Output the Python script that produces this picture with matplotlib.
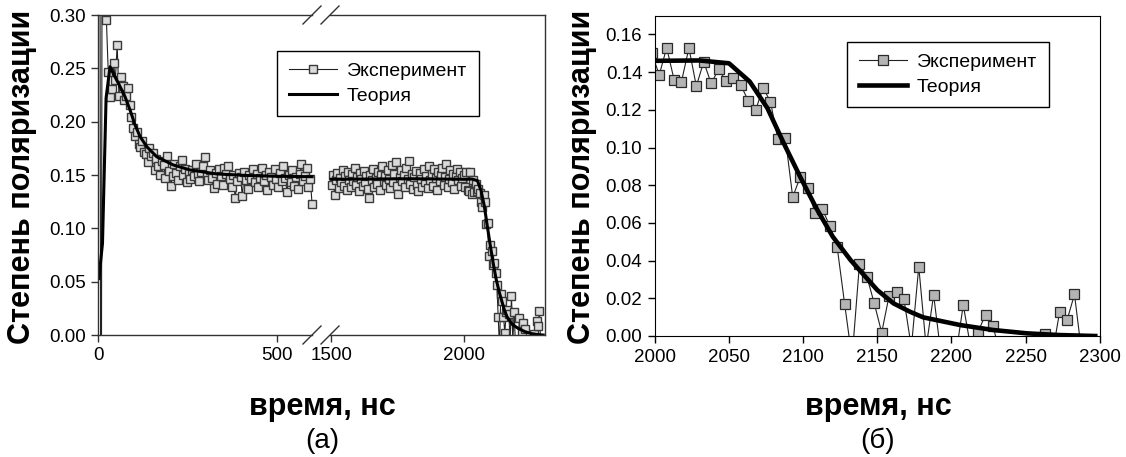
import matplotlib
matplotlib.use("Agg")
import matplotlib.pyplot as plt   # noqa: E402
import numpy as np                # noqa: E402
from matplotlib.lines import Line2D  # noqa: E402

plt.rcParams["font.family"] = ["Liberation Sans", "DejaVu Sans"]

# experiment, first stretch: samples every 5 ns from 3 ns
exp1_start, exp1_step = 3, 5
exp1 = [
    0.80, -0.30, 0.90, 0.31, 0.295, 0.247, 0.223, 0.231, 0.255, 0.239,
    0.272, 0.224, 0.242, 0.233, 0.220, 0.224, 0.232, 0.216, 0.204, 0.194,
    0.187, 0.190, 0.179, 0.176, 0.182, 0.172, 0.170, 0.162, 0.175, 0.168,
    0.171, 0.155, 0.165, 0.158, 0.150, 0.163, 0.159, 0.147, 0.168, 0.154,
    0.140, 0.149, 0.160, 0.152, 0.145, 0.158, 0.164, 0.150, 0.156, 0.143,
    0.152, 0.146, 0.155, 0.149, 0.160, 0.151, 0.144, 0.153, 0.158, 0.167,
    0.150, 0.145, 0.155, 0.147, 0.138, 0.152, 0.142, 0.156, 0.149, 0.141,
    0.157, 0.151, 0.158, 0.146, 0.139, 0.150, 0.128, 0.144, 0.152, 0.148,
    0.130, 0.153, 0.145, 0.137, 0.150, 0.146, 0.156, 0.143, 0.151, 0.139,
    0.147, 0.157, 0.144, 0.150, 0.136, 0.153, 0.148, 0.141, 0.156, 0.146,
    0.139, 0.152, 0.144, 0.158, 0.147, 0.134, 0.150, 0.143, 0.155, 0.140,
    0.148, 0.137, 0.151, 0.160, 0.144, 0.149, 0.157, 0.139, 0.146, 0.123,
]

# experiment, second stretch: samples every 5 ns from 1503 ns
exp2_start, exp2_step = 1503, 5
exp2 = [
    0.141, 0.150, 0.131, 0.145, 0.152, 0.138, 0.147, 0.143, 0.155, 0.140,
    0.149, 0.136, 0.153, 0.145, 0.139, 0.151, 0.144, 0.157, 0.141, 0.148,
    0.135, 0.152, 0.146, 0.140, 0.154, 0.143, 0.149, 0.137, 0.128, 0.150,
    0.145, 0.156, 0.139, 0.147, 0.142, 0.153, 0.136, 0.150, 0.158, 0.144,
    0.149, 0.141, 0.155, 0.146, 0.138, 0.159, 0.143, 0.151, 0.162, 0.140,
    0.132, 0.148, 0.155, 0.144, 0.150, 0.139, 0.157, 0.146, 0.163, 0.142,
    0.151, 0.137, 0.148, 0.154, 0.141, 0.135, 0.152, 0.146, 0.139, 0.156,
    0.143, 0.149, 0.138, 0.158, 0.145, 0.151, 0.140, 0.156, 0.147, 0.136,
    0.153, 0.144, 0.150, 0.157, 0.141, 0.148, 0.160, 0.139, 0.146, 0.155,
    0.143, 0.151, 0.137, 0.149, 0.156, 0.145, 0.153, 0.140, 0.147, 0.150,
    # 2003 ns onward (the stretch shown in panel b)
    0.1385, 0.153, 0.136, 0.135, 0.1528, 0.1326, 0.1455, 0.134, 0.1415, 0.1353,
    0.1367, 0.1332, 0.1248, 0.1199, 0.1317, 0.1243, 0.1043, 0.1052, 0.0737, 0.0843,
    0.0785, 0.0654, 0.0672, 0.0584, 0.047, 0.0171, -0.012, 0.0382, 0.0315, 0.0173,
    0.0018, 0.0214, 0.0235, 0.0195, -0.006, 0.0368, -0.006, 0.0219, -0.010, -0.020,
    -0.010, 0.0164, -0.006, 0.0023, 0.0113, 0.0055, -0.010, -0.020, -0.015, -0.020,
    -0.010, -0.015, 0.001, -0.010, 0.0129, 0.0085, 0.0221, -0.010,
]

# theory curve
th1_t = [2, 12, 22, 33, 47, 61, 75, 89, 103, 117, 136, 164, 210, 257, 331, 420, 500, 598]
th1_v = [0.053, 0.086, 0.222, 0.2515, 0.242, 0.233, 0.2234, 0.211, 0.197, 0.186,
         0.1765, 0.167, 0.1594, 0.1547, 0.151, 0.1495, 0.1488, 0.1484]
th2_t = [1500, 1800, 2000, 2030, 2050, 2064, 2076, 2087, 2098, 2109, 2120, 2132,
         2150, 2161, 2172, 2181, 2195, 2206, 2228, 2251, 2273, 2297]
th2_v = [0.146, 0.1465, 0.146, 0.1462, 0.1447, 0.135, 0.1208, 0.1022, 0.0845, 0.0677,
         0.0527, 0.0403, 0.0244, 0.0173, 0.0129, 0.0099, 0.0076, 0.0058, 0.0032,
         0.0014, 0.0005, 0.0]

t1 = exp1_start + exp1_step * np.arange(len(exp1))
t2 = exp2_start + exp2_step * np.arange(len(exp2))

W, H = 1126, 457
fig = plt.figure(figsize=(W / 100, H / 100), dpi=100)

ax1 = fig.add_axes([98.2 / W, 1 - 335 / H, (321 - 98.2) / W, 320 / H])
ax2 = fig.add_axes([321 / W, 1 - 335 / H, (545 - 321) / W, 320 / H])
ax3 = fig.add_axes([654.8 / W, 1 - 336 / H, 444.9 / W, (336 - 15.6) / H])

exp_left = dict(color="#222222", lw=0.8, marker="s", ms=6, mfc="#dadada",
                mec="#3a3a3a", mew=1.0)
for ax, t, v in [(ax1, t1, exp1), (ax2, t2, exp2)]:
    ax.plot(t, v, **exp_left)
ax1.plot(th1_t, th1_v, color="black", lw=2.2)
ax2.plot(th2_t, th2_v, color="black", lw=2.2)

ax1.set_xlim(0, 623)
ax2.set_xlim(1462, 2304)
for ax in (ax1, ax2):
    ax.set_ylim(0, 0.30)
    for s in ax.spines.values():
        s.set_color("#333333")
        s.set_linewidth(1)
    ax.tick_params(direction="out", length=5, width=1, color="#333333",
                   labelsize=13.5, pad=4)
ax1.set_yticks(np.arange(0, 0.301, 0.05))
ax1.set_yticklabels([f"{y:.2f}" for y in np.arange(0, 0.301, 0.05)])
ax1.set_xticks([0, 500])
ax2.set_xticks([1500, 2000])
ax2.set_yticks([])
ax1.spines["right"].set_visible(False)
ax2.spines["left"].set_visible(False)
ax1.spines["top"].set_bounds(0, 598)
ax1.spines["bottom"].set_bounds(0, 598)
ax2.spines["top"].set_bounds(1496, 2304)
ax2.spines["bottom"].set_bounds(1496, 2304)

# break marks
for xc in (312, 330):
    for yc in (15, 335):
        fig.add_artist(Line2D([(xc - 9) / W, (xc + 9) / W],
                              [1 - (yc + 9) / H, 1 - (yc - 9) / H],
                              color="#333333", lw=1))

ax3.plot(t2, exp2, color="#222222", lw=0.8, marker="s", ms=6.5, mfc="#b4b4b4",
         mec="#2a2a2a", mew=0.9)
ax3.plot(th2_t, th2_v, color="black", lw=3.3)
ax3.set_xlim(2000, 2300)
ax3.set_ylim(0, 0.17)
ax3.set_xticks(np.arange(2000, 2301, 50))
ax3.set_yticks(np.arange(0, 0.161, 0.02))
ax3.set_yticklabels([f"{y:.2f}" for y in np.arange(0, 0.161, 0.02)])
ax3.tick_params(direction="out", length=5, width=1, labelsize=13.5, pad=4)

handles_l = [Line2D([], [], **exp_left), Line2D([], [], color="black", lw=2.2)]
handles_r = [Line2D([], [], color="#222222", lw=0.8, marker="s", ms=6.5,
                    mfc="#b4b4b4", mec="#2a2a2a", mew=0.9),
             Line2D([], [], color="black", lw=3.3)]
names = ["Эксперимент", "Теория"]
for hnd, (lx, ly) in [(handles_l, (277, 51)), (handles_r, (847, 42))]:
    fig.legend(hnd, names, loc="upper left", bbox_to_anchor=(lx / W, 1 - ly / H),
               borderaxespad=0, fontsize=14, fancybox=False, framealpha=1,
               edgecolor="black", handlelength=2.5, labelspacing=0.35,
               borderpad=0.6, handletextpad=0.5)

for xc in (22, 582):
    fig.text(xc / W, 1 - 177 / H, "Степень поляризации", rotation=90,
             ha="center", va="center", fontsize=22, fontweight="bold")
for xc, tag in [(322, "(а)"), (878, "(б)")]:
    fig.text(xc / W, 1 - 407 / H, "время, нс", ha="center", va="center",
             fontsize=22, fontweight="bold")
    fig.text(xc / W, 1 - 441 / H, tag, ha="center", va="center", fontsize=20)

fig.savefig("out.png", dpi=100)
